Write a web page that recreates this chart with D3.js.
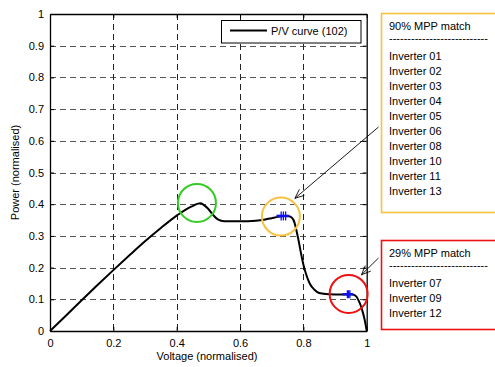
<!DOCTYPE html>
<html>
<head>
<meta charset="utf-8">
<script src="https://cdn.jsdelivr.net/npm/d3@7/dist/d3.min.js"></script>
<style>
  html, body { margin: 0; padding: 0; background: #fff; }
  svg { display: block; font-family: "Liberation Sans", Arial, sans-serif; }
</style>
</head>
<body>
<svg id="chart" width="495" height="367"></svg>
<script>
// P/V curve (normalised)
const voltage = [0, 0.05, 0.1, 0.15, 0.2, 0.25, 0.3, 0.35, 0.4, 0.43, 0.45, 0.465, 0.475, 0.485, 0.5, 0.515, 0.53, 0.55, 0.6, 0.65, 0.68, 0.7, 0.72, 0.74, 0.755, 0.765, 0.772, 0.778, 0.785, 0.792, 0.8, 0.81, 0.82, 0.835, 0.85, 0.88, 0.92, 0.95, 0.96, 0.968, 0.975, 0.982, 0.988, 0.993, 0.997, 1.0];
const power   = [0, 0.048, 0.097, 0.145, 0.192, 0.238, 0.283, 0.325, 0.364, 0.384, 0.394, 0.401, 0.403, 0.398, 0.385, 0.366, 0.352, 0.346, 0.346, 0.348, 0.352, 0.356, 0.36, 0.363, 0.362, 0.356, 0.342, 0.318, 0.285, 0.248, 0.21, 0.175, 0.15, 0.13, 0.12, 0.116, 0.115, 0.116, 0.114, 0.108, 0.095, 0.078, 0.058, 0.038, 0.018, 0];

const xTicks = [0, 0.2, 0.4, 0.6, 0.8, 1];
const yTicks = [0, 0.1, 0.2, 0.3, 0.4, 0.5, 0.6, 0.7, 0.8, 0.9, 1];

// matched MPP points (blue markers)
const match90V = [0.73, 0.737, 0.744];
const match90P = 0.363;
const match29V = [0.939, 0.943, 0.947];
const match29P = 0.116;

// highlighted regions: [voltage, power, colour]
const circles = [
  { v: 0.464, p: 0.404, color: "#33cc22" },
  { v: 0.729, p: 0.361, color: "#f7c240" },
  { v: 0.943, p: 0.117, color: "#ee1111" }
];

const group90 = ["Inverter 01", "Inverter 02", "Inverter 03", "Inverter 04", "Inverter 05", "Inverter 06", "Inverter 08", "Inverter 10", "Inverter 11", "Inverter 13"];
const group29 = ["Inverter 07", "Inverter 09", "Inverter 12"];

const svg = d3.select("#chart");
const m = { left: 50, right: 366.7, top: 14, bottom: 331 };

const x = d3.scaleLinear().domain([0, 1]).range([m.left, m.right]);
const y = d3.scaleLinear().domain([0, 1]).range([m.bottom, m.top]);

// GRID
const grid = svg.append("g")
  .attr("stroke", "#555")
  .attr("stroke-width", 1)
  .attr("stroke-dasharray", "6,4");
grid.selectAll("line.h")
  .data(yTicks.filter(d => d > 0 && d < 1))
  .join("line")
  .attr("x1", m.left).attr("x2", m.right)
  .attr("y1", d => Math.round(y(d)) + 0.5).attr("y2", d => Math.round(y(d)) + 0.5);
grid.selectAll("line.v")
  .data(xTicks.filter(d => d > 0 && d < 1))
  .join("line")
  .attr("x1", d => Math.round(x(d)) + 0.5).attr("x2", d => Math.round(x(d)) + 0.5)
  .attr("y1", m.top).attr("y2", m.bottom)
  .attr("stroke", "#222");

// AXES
const xAxis = svg.append("g")
  .attr("transform", `translate(0,${m.bottom})`)
  .call(d3.axisBottom(x).tickValues(xTicks).tickFormat(d3.format("")).tickSizeInner(-4).tickSizeOuter(0).tickPadding(8));
const xAxisTop = svg.append("g")
  .attr("transform", `translate(0,${m.top})`)
  .call(d3.axisTop(x).tickValues(xTicks).tickFormat("").tickSizeInner(-4).tickSizeOuter(0));
const yAxis = svg.append("g")
  .attr("transform", `translate(${m.left},0)`)
  .call(d3.axisLeft(y).tickValues(yTicks).tickFormat(d3.format("")).tickSizeInner(-4).tickSizeOuter(0).tickPadding(6));
const yAxisRight = svg.append("g")
  .attr("transform", `translate(${m.right},0)`)
  .call(d3.axisRight(y).tickValues(yTicks).tickFormat("").tickSizeInner(-4).tickSizeOuter(0));

[xAxis, xAxisTop, yAxis, yAxisRight].forEach(a => {
  a.selectAll("text").attr("font-size", 11).attr("font-family", "Liberation Sans, Arial, sans-serif").attr("fill", "#000");
  a.selectAll("line").attr("stroke", "#000");
  a.select(".domain").attr("stroke", "#000").attr("stroke-width", 1.3);
});

// axis labels
svg.append("text")
  .attr("x", 207).attr("y", 360)
  .attr("text-anchor", "middle")
  .attr("font-size", 11)
  .text("Voltage (normalised)");
svg.append("text")
  .attr("transform", `translate(19,${(m.top + m.bottom) / 2}) rotate(-90)`)
  .attr("text-anchor", "middle")
  .attr("font-size", 11)
  .text("Power (normalised)");

// CURVE
const pts = voltage.map((v, i) => [v, power[i]]);
const line = d3.line().x(d => x(d[0])).y(d => y(d[1])).curve(d3.curveMonotoneX);
svg.append("path")
  .datum(pts)
  .attr("fill", "none")
  .attr("stroke", "#000")
  .attr("stroke-width", 2)
  .attr("d", line);

// BLUE MATCH MARKERS
function drawMatches(vs, p, tickH) {
  const g = svg.append("g").attr("stroke", "#1010ee");
  const lo = d3.min(vs) - 0.015, hi = d3.max(vs) + 0.01;
  g.append("line")
    .attr("x1", x(lo)).attr("x2", x(hi))
    .attr("y1", y(p)).attr("y2", y(p))
    .attr("stroke-width", 2.5);
  g.selectAll("line.t")
    .data(vs)
    .join("line")
    .attr("x1", d => x(d)).attr("x2", d => x(d))
    .attr("y1", y(p) - tickH / 2).attr("y2", y(p) + tickH / 2)
    .attr("stroke-width", 1.3);
}
drawMatches(match90V, match90P, 9);
drawMatches(match29V, match29P, 8);

// CIRCLES
svg.selectAll("circle.hl")
  .data(circles)
  .join("circle")
  .attr("cx", d => x(d.v))
  .attr("cy", d => y(d.p))
  .attr("r", 19)
  .attr("fill", "none")
  .attr("stroke", d => d.color)
  .attr("stroke-width", 2);

// LEGEND
const leg = svg.append("g");
leg.append("rect")
  .attr("x", 221.5).attr("y", 20.5).attr("width", 139.5).attr("height", 22.5)
  .attr("fill", "#fff").attr("stroke", "#000").attr("stroke-width", 1);
leg.append("line")
  .attr("x1", 230).attr("x2", 267).attr("y1", 30.5).attr("y2", 30.5)
  .attr("stroke", "#000").attr("stroke-width", 2);
leg.append("text")
  .attr("x", 271).attr("y", 35)
  .attr("font-size", 11)
  .text("P/V curve (102)");

// ANNOTATION BOXES
function annotation(top, bottom, color, title, items, circle, endAngle, startY) {
  const bx = 381.5;
  svg.append("rect")
    .attr("x", bx).attr("y", top).attr("width", 140).attr("height", bottom - top)
    .attr("fill", "#fff").attr("stroke", color).attr("stroke-width", 1.6);
  const t = svg.append("g").attr("font-size", 11).attr("fill", "#000");
  t.append("text").attr("x", 389).attr("y", top + 16).text(title);
  t.append("text").attr("x", 389).attr("y", top + 28.5).text("---------------------------");
  t.selectAll("text.item")
    .data(items)
    .join("text")
    .attr("x", 389)
    .attr("y", (d, i) => top + 46.5 + i * 15)
    .text(d => d);
  // arrow from near box to circle edge
  const cx = x(circle.v), cy = y(circle.p);
  const ex = cx + 23 * Math.cos(endAngle), ey = cy - 23 * Math.sin(endAngle);
  const sx = 378.5, sy = startY;
  svg.append("line")
    .attr("x1", sx).attr("y1", sy).attr("x2", ex).attr("y2", ey)
    .attr("stroke", "#000").attr("stroke-width", 0.9);
  const ang = Math.atan2(ey - sy, ex - sx);
  const L = 10, w = 0.4;
  const p1 = [ex - L * Math.cos(ang - w), ey - L * Math.sin(ang - w)];
  const p2 = [ex - L * Math.cos(ang + w), ey - L * Math.sin(ang + w)];
  svg.append("path")
    .attr("d", `M${p1[0]},${p1[1]} L${ex},${ey} L${p2[0]},${p2[1]}`)
    .attr("fill", "none").attr("stroke", "#000").attr("stroke-width", 0.9);
}

annotation(13.5, 212.5, "#f7c240", "90% MPP match", group90, circles[1], 0.915, 127);
annotation(240.5, 329.5, "#ee1111", "29% MPP match", group29, circles[2], 0.98, 258);
</script>
</body>
</html>
